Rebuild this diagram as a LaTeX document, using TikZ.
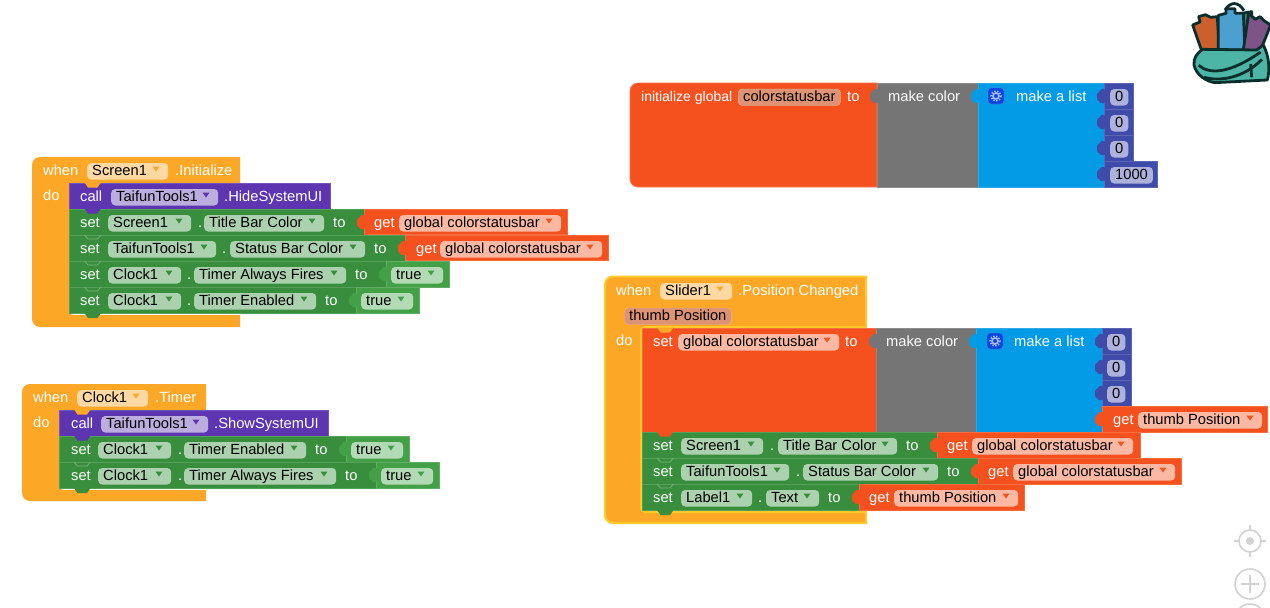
\documentclass[tikz,border=0pt]{standalone}
\usepackage{fontspec}
\setmainfont{Liberation Sans}
\definecolor{ctrl}{HTML}{FCA726}
\definecolor{ctrlpill}{HTML}{FFD9A3}
\definecolor{callc}{HTML}{5E35B1}
\definecolor{callpill}{HTML}{BBAEDF}
\definecolor{setc}{HTML}{388E3C}
\definecolor{setpill}{HTML}{ABD1AE}
\definecolor{truec}{HTML}{43A047}
\definecolor{truepill}{HTML}{B2DAB4}
\definecolor{getc}{HTML}{F4511E}
\definecolor{getpill}{HTML}{FBB8A3}
\definecolor{namepill}{HTML}{DE9474}
\definecolor{mathc}{HTML}{757575}
\definecolor{listc}{HTML}{039BE5}
\definecolor{numc}{HTML}{3F4BA8}
\definecolor{numpill}{HTML}{ACB2DC}
\definecolor{gearc}{HTML}{0D47E0}
\definecolor{selc}{HTML}{FFCA28}
\definecolor{bagline}{HTML}{0B2E2C}
\definecolor{bagteal}{HTML}{4CB5A5}
\definecolor{tagorange}{HTML}{CB602C}
\definecolor{tagblue}{HTML}{4BA0D0}
\definecolor{tagpurple}{HTML}{7E5488}
\definecolor{iconc}{HTML}{D2D2D2}

% plain block, then the puzzle parts
\newcommand{\blk}[5]{\draw[draw=#1!85!white,fill=#1,line width=0.8pt] (#2,#3) rectangle (#4,#5);}
\newcommand{\plug}[3]{\fill[#1,rounded corners=1.2] (#2+1,#3-7) -- (#2-3.5,#3-7) -- (#2-3.5,#3-5) -- (#2-7,#3-3) -- (#2-7,#3+4) -- (#2-3.5,#3+6) -- (#2-3.5,#3+7) -- (#2+1,#3+7) -- cycle;}
\newcommand{\notch}[3]{\fill[#1] (#2-1,#3-0.5) -- (#2+2.5,#3+4.5) -- (#2+12,#3+4.5) -- (#2+15.5,#3-0.5) -- cycle;}
\newcommand{\crease}[3]{\draw[#1!70!white,line width=0.8pt] (#2-1,#3) -- (#2+2.5,#3+4) -- (#2+12,#3+4) -- (#2+15.5,#3);}
% name, fill, arrow colour, x1, x2, baseline, text
\newcommand{\pillbox}[7]{%
  \pgfmathsetmacro{\pw}{#5-#4-10}
  \node[pill,fill=#2] (#1) at (#4,#6) {\makebox[\pw pt][l]{#7}};
  \fill[#3] (#5-15.5,#6-8.5) -- (#5-8.5,#6-8.5) -- (#5-12,#6-3.5) -- cycle;}
\newcommand{\gearbox}[3]{%
  \node[gear] (#1) at (#2,#3) {};
  \draw[white!65!gearc,line width=1.6pt] (#1) circle (3);
  \draw[white!65!gearc,line width=1.5pt,dash pattern=on 1.4pt off 1.6pt] (#1) circle (5);}

\begin{document}
\begin{tikzpicture}[x=1pt,y=-1pt,font=\fontsize{14.7}{16}\selectfont]
        \tikzstyle{lbl} = [anchor=base west,inner sep=0,text=white];
        \tikzstyle{pill} = [anchor=base west,inner xsep=5pt,inner ysep=1.5pt,text height=10.5pt,text depth=3pt,rounded corners=4pt,text=black];
        \tikzstyle{valnum} = [pill,fill=numpill,align=center];
        \tikzstyle{gear} = [draw=white!30!gearc,fill=gearc,rounded corners=3pt,minimum size=16pt,inner sep=0];

        \useasboundingbox (0,0) rectangle (1270,608);
        \clip (0,0) rectangle (1270,608);
        \fill[white] (0,0) rectangle (1270,608);

        % when Screen1.Initialize
        \fill[ctrl] (240,157) [rounded corners=8pt] -- (32,157) -- (32,327) [sharp corners] -- (240,327) -- (240,315) [rounded corners=4pt] -- (69,315) -- (69,183) [sharp corners] -- (240,183) -- cycle;
        \node[lbl] (whenA) at (43,175) {when};
        \pillbox{screenA}{ctrlpill}{ctrl}{87}{168}{175}{Screen1}
        \node[lbl] (initA) at (175,175) {.Initialize};
        \node[lbl] (doA) at (43,200) {do};

        \blk{callc}{69}{183}{330}{209}
        \notch{ctrl}{85.5}{183}
        \node[lbl] (callA) at (80,201) {call};
        \pillbox{toolsA}{callpill}{callc}{111}{218}{201}{TaifunTools1}
        \node[lbl] (hideA) at (224,201) {.HideSystemUI};

        \blk{setc}{69}{209}{364}{235}
        \notch{callc}{85.5}{209}
        \node[lbl] (setA) at (80,227) {set};
        \pillbox{screenB}{setpill}{setc}{108}{191}{227}{Screen1}
        \node[lbl] (dotA) at (198,227) {.};
        \pillbox{titleA}{setpill}{setc}{204}{324}{227}{Title Bar Color}
        \node[lbl] (toA) at (333,227) {to};
        \blk{getc}{364}{209}{567}{234}
        \plug{getc}{364}{222}
        \node[lbl] (getA) at (374,227) {get};
        \pillbox{globalA}{getpill}{getc}{399}{561}{227}{global colorstatusbar}

        \blk{setc}{69}{235}{405}{261}
        \crease{setc}{85.5}{235}
        \node[lbl] (setB) at (80,253) {set};
        \pillbox{toolsB}{setpill}{setc}{108}{216}{253}{TaifunTools1}
        \node[lbl] (dotB) at (222,253) {.};
        \pillbox{statusA}{setpill}{setc}{230}{365}{253}{Status Bar Color}
        \node[lbl] (toB) at (374,253) {to};
        \blk{getc}{405}{235}{608}{260}
        \plug{getc}{405}{248}
        \node[lbl] (getB) at (416,253) {get};
        \pillbox{globalB}{getpill}{getc}{440}{602}{253}{global colorstatusbar}

        \blk{setc}{69}{261}{386}{287}
        \crease{setc}{85.5}{261}
        \node[lbl] (setC) at (80,279) {set};
        \pillbox{clockA}{setpill}{setc}{108}{181}{279}{Clock1}
        \node[lbl] (dotC) at (187,279) {.};
        \pillbox{firesA}{setpill}{setc}{194}{346}{279}{Timer Always Fires}
        \node[lbl] (toC) at (355,279) {to};
        \blk{truec}{386}{261}{449}{287}
        \plug{truec}{386}{274}
        \pillbox{trueA}{truepill}{truec}{391}{443}{279}{true}

        \blk{setc}{69}{287}{356}{313}
        \crease{setc}{85.5}{287}
        \node[lbl] (setD) at (80,305) {set};
        \pillbox{clockB}{setpill}{setc}{108}{181}{305}{Clock1}
        \node[lbl] (dotD) at (187,305) {.};
        \pillbox{enabledA}{setpill}{setc}{194}{316}{305}{Timer Enabled}
        \node[lbl] (toD) at (325,305) {to};
        \blk{truec}{356}{287}{419}{313}
        \plug{truec}{356}{300}
        \pillbox{trueB}{truepill}{truec}{361}{413}{305}{true}
        \notch{setc}{85.5}{313.5}

        % when Clock1.Timer
        \fill[ctrl] (206,384) [rounded corners=8pt] -- (22,384) -- (22,501) [sharp corners] -- (206,501) -- (206,490) [rounded corners=4pt] -- (59,490) -- (59,410) [sharp corners] -- (206,410) -- cycle;
        \node[lbl] (whenB) at (33,402) {when};
        \pillbox{clockC}{ctrlpill}{ctrl}{77}{148}{402}{Clock1}
        \node[lbl] (timerB) at (155,402) {.Timer};
        \node[lbl] (doB) at (33,427) {do};

        \blk{callc}{59}{410}{328}{436}
        \notch{ctrl}{75}{410}
        \node[lbl] (callB) at (71,428) {call};
        \pillbox{toolsC}{callpill}{callc}{101}{208}{428}{TaifunTools1}
        \node[lbl] (showB) at (214,428) {.ShowSystemUI};

        \blk{setc}{59}{436}{346}{462}
        \notch{callc}{75}{436}
        \node[lbl] (setE) at (71,454) {set};
        \pillbox{clockD}{setpill}{setc}{98}{171}{454}{Clock1}
        \node[lbl] (dotE) at (178,454) {.};
        \pillbox{enabledB}{setpill}{setc}{184}{306}{454}{Timer Enabled}
        \node[lbl] (toE) at (315,454) {to};
        \blk{truec}{346}{436}{409}{462}
        \plug{truec}{346}{449}
        \pillbox{trueC}{truepill}{truec}{351}{403}{454}{true}

        \blk{setc}{59}{462}{376}{488}
        \crease{setc}{75}{462}
        \node[lbl] (setF) at (71,480) {set};
        \pillbox{clockE}{setpill}{setc}{98}{171}{480}{Clock1}
        \node[lbl] (dotF) at (178,480) {.};
        \pillbox{firesB}{setpill}{setc}{184}{336}{480}{Timer Always Fires}
        \node[lbl] (toF) at (345,480) {to};
        \blk{truec}{376}{462}{439}{488}
        \plug{truec}{376}{475}
        \pillbox{trueD}{truepill}{truec}{381}{433}{480}{true}
        \notch{setc}{75}{488.5}

        % initialize global
        \draw[draw=getc!80!white,fill=getc,line width=0.8pt] (877,83) [rounded corners=8pt] -- (630,83) -- (630,187) [sharp corners] -- (877,187) -- cycle;
        \node[lbl,font=\fontsize{14}{16}\selectfont] (initG) at (641,101) {initialize global};
        \node[pill,fill=namepill,draw=namepill!70!white] (nameG) at (738,101) {colorstatusbar};
        \node[lbl] (toG) at (847,101) {to};
        \blk{mathc}{877}{83}{978}{187}
        \plug{mathc}{877}{96}
        \node[lbl] (colorG) at (888,101) {make color};
        \blk{listc}{978}{83}{1104}{187}
        \plug{listc}{978}{96}
        \gearbox{gearG}{996}{96}
        \node[lbl] (listG) at (1016,101) {make a list};
        \foreach \yy/\nn in {83/a,109/b,135/c} {
          \blk{numc}{1104}{\yy}{1133}{\yy+26}
          \plug{numc}{1104}{\yy+13}
          \node[valnum] (zero\nn) at (1110,\yy+18) {0};
        }
        \blk{numc}{1104}{161}{1157}{187}
        \plug{numc}{1104}{174}
        \node[valnum] (thousand) at (1110,179) {1000};

        % when Slider1.PositionChanged
        \draw[draw=selc,fill=ctrl,line width=2pt] (866,276.5) [rounded corners=8pt] -- (605,276.5) -- (605,523) [sharp corners] -- (866,523) -- (866,512) [rounded corners=4pt] -- (641,512) -- (641,327) [sharp corners] -- (866,327) -- cycle;
        \node[lbl] (whenC) at (616,295) {when};
        \pillbox{sliderC}{ctrlpill}{ctrl}{660}{732}{295}{Slider1}
        \node[lbl] (posC) at (738,295) {.Position Changed};
        \node[pill,fill=namepill,draw=namepill!70!white] (thumbC) at (624,320) {thumb Position};
        \node[lbl] (doC) at (616,345) {do};

        \blk{getc}{642}{328}{876}{432}
        \notch{ctrl}{658}{328}
        \node[lbl] (setG) at (653,346) {set};
        \pillbox{globalC}{getpill}{getc}{678}{839}{346}{global colorstatusbar}
        \node[lbl] (toH) at (845,346) {to};
        \blk{mathc}{876}{328}{976}{432}
        \plug{mathc}{876}{341}
        \node[lbl] (colorC) at (886,346) {make color};
        \blk{listc}{976}{328}{1102}{432}
        \plug{listc}{976}{341}
        \gearbox{gearC}{995}{341}
        \node[lbl] (listC) at (1014,346) {make a list};
        \foreach \yy/\nn in {328/d,354/e,380/f} {
          \blk{numc}{1102}{\yy}{1131}{\yy+26}
          \plug{numc}{1102}{\yy+13}
          \node[valnum] (zero\nn) at (1107,\yy+18) {0};
        }
        \blk{getc}{1102}{406.5}{1267}{432}
        \plug{getc}{1102}{419}
        \node[lbl] (getH) at (1113,424) {get};
        \pillbox{thumbH}{getpill}{getc}{1138}{1262}{424}{thumb Position}

        \blk{setc}{642}{432}{937}{458}
        \notch{getc}{658}{432}
        \node[lbl] (setH) at (653,450) {set};
        \pillbox{screenC}{setpill}{setc}{681}{763}{450}{Screen1}
        \node[lbl] (dotH) at (770,450) {.};
        \pillbox{titleB}{setpill}{setc}{778}{897}{450}{Title Bar Color}
        \node[lbl] (toI) at (906,450) {to};
        \blk{getc}{937}{432}{1140}{458}
        \plug{getc}{937}{445}
        \node[lbl] (getI) at (947,450) {get};
        \pillbox{globalD}{getpill}{getc}{972}{1133}{450}{global colorstatusbar}

        \blk{setc}{642}{458}{978}{484}
        \crease{setc}{658}{458}
        \node[lbl] (setI) at (653,476) {set};
        \pillbox{toolsD}{setpill}{setc}{681}{789}{476}{TaifunTools1}
        \node[lbl] (dotI) at (796,476) {.};
        \pillbox{statusB}{setpill}{setc}{803}{938}{476}{Status Bar Color}
        \node[lbl] (toJ) at (947,476) {to};
        \blk{getc}{978}{458}{1181}{484}
        \plug{getc}{978}{471}
        \node[lbl] (getJ) at (988,476) {get};
        \pillbox{globalE}{getpill}{getc}{1013}{1175}{476}{global colorstatusbar}

        \blk{setc}{642}{484}{859}{510}
        \crease{setc}{658}{484}
        \node[lbl] (setJ) at (653,502) {set};
        \pillbox{labelA}{setpill}{setc}{681}{752}{502}{Label1}
        \node[lbl] (dotJ) at (758,502) {.};
        \pillbox{textA}{setpill}{setc}{766}{819}{502}{Text}
        \node[lbl] (toK) at (828,502) {to};
        \blk{getc}{859}{484}{1024}{510}
        \plug{getc}{859}{497}
        \node[lbl] (getK) at (869,502) {get};
        \pillbox{thumbK}{getpill}{getc}{894}{1018}{502}{thumb Position}
        \notch{setc}{658}{510.5}

        % backpack, in zoomed units
        \begin{scope}[shift={(1180,0)},x=0.3333pt,y=-0.3333pt,draw=bagline,line width=2.8pt,line join=round]
        \draw (135,30) .. controls (150,5) and (175,3) .. (192,32);
        \draw[fill=bagteal!70!black] (185,40) -- (215,35) -- (215,100) -- (185,100) -- cycle;
        \draw[fill=tagorange] (38,75) -- (60,66) -- (56,50) -- (76,44) -- (92,52) -- (112,50) -- (118,150) -- (66,155) -- cycle;
        \draw[fill=tagblue] (115,46) -- (138,40) -- (138,26) -- (165,26) -- (165,40) -- (190,40) -- (195,150) -- (115,150) -- cycle;
        \draw[fill=tagpurple] (206,40) -- (226,58) -- (240,50) -- (252,62) -- (272,75) -- (240,155) -- (190,150) -- cycle;
        \draw[fill=bagteal] (68,148) .. controls (50,160) and (40,175) .. (42,195) .. controls (48,225) and (80,245) .. (105,248) -- (262,240) .. controls (270,210) and (268,170) .. (250,135) -- (230,150) -- cycle;
        \draw (56,196) .. controls (90,225) and (150,220) .. (242,156);
        \draw (72,232) .. controls (120,245) and (190,235) .. (246,178);
        \draw (212,192) -- (215,232);
        \end{scope}

        % map controls
        \begin{scope}[draw=iconc,line width=1.6pt]
        \draw (1250,541) circle (11);
        \fill[iconc] (1250,541) circle (4);
        \draw (1250,525) -- (1250,531);
        \draw (1250,551) -- (1250,557);
        \draw (1234,541) -- (1240,541);
        \draw (1260,541) -- (1266,541);
        \draw (1250,584) circle (15);
        \draw (1250,575) -- (1250,593);
        \draw (1241,584) -- (1259,584);
        \draw (1250,619) circle (15);
        \end{scope}
    \end{tikzpicture}
\end{document}
